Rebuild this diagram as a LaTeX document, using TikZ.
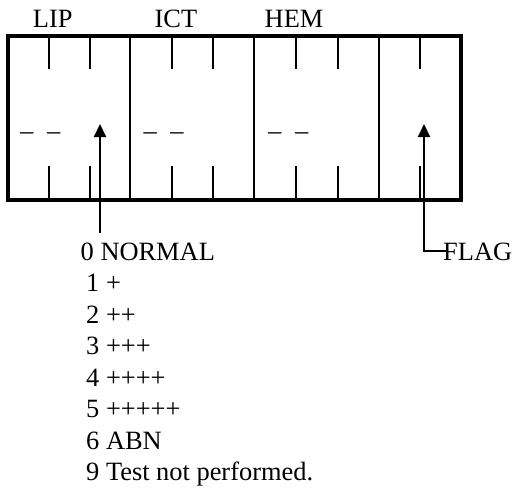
\documentclass[tikz,border=0pt]{standalone}
\usepackage{fontspec}
\setmainfont{Liberation Serif}
\usepackage{tikz}
\usetikzlibrary{positioning,arrows.meta}

\tikzset{
  lbl/.style={anchor=base west,inner sep=0pt,font=\fontsize{26.4}{31}\selectfont},
  tickline/.style={line width=2pt},
  divider/.style={line width=2.4pt},
  pointer/.style={line width=2pt,-{Triangle[length=13pt,width=12pt]}}
}

\begin{document}
\begin{tikzpicture}[x=1pt,y=-1pt]
  \useasboundingbox (0,0) rectangle (516,495);
  \draw[line width=4pt] (8,36) rectangle (461,200);
  \foreach \x in {130,254,379} \draw[divider] (\x,36) -- (\x,200);
  \foreach \x in {49,90,172,213,296,338,420} {
    \draw[tickline] (\x,36) -- (\x,69);
    \draw[tickline] (\x,166) -- (\x,200);
  }
  \node[lbl] (lip) at (32.7,28) {LIP};
  \node[lbl] (ict) at (154.5,28) {ICT};
  \node[lbl] (hem) at (264.5,28) {HEM};
  \node[lbl] (lipdash) at (20,139.6) {–\hspace{0.52em}–};
  \node[lbl] (ictdash) at (143.3,139.6) {–\hspace{0.52em}–};
  \node[lbl] (hemdash) at (268,139.6) {–\hspace{0.52em}–};
  \coordinate (lipfoot) at (100,233);
  \coordinate (liptip) at (100,124);
  \coordinate (flagtip) at (424,124);
  \draw[pointer] (lipfoot) -- (liptip);
  \node[lbl] (flag) at (443,260) {FLAG};
  \draw[pointer] ([xshift=4pt]flag.west) -| (flagtip);
  \node[lbl] (normal) at (80.5,260) {0 NORMAL};
  \foreach \t [count=\i] in {1 +,2 ++,3 +++,4 ++++,5 +++++,6 ABN,9 Test not performed.}
    \node[lbl] (grade\i) at (86,260+31.55*\i) {\t};
\end{tikzpicture}
\end{document}
